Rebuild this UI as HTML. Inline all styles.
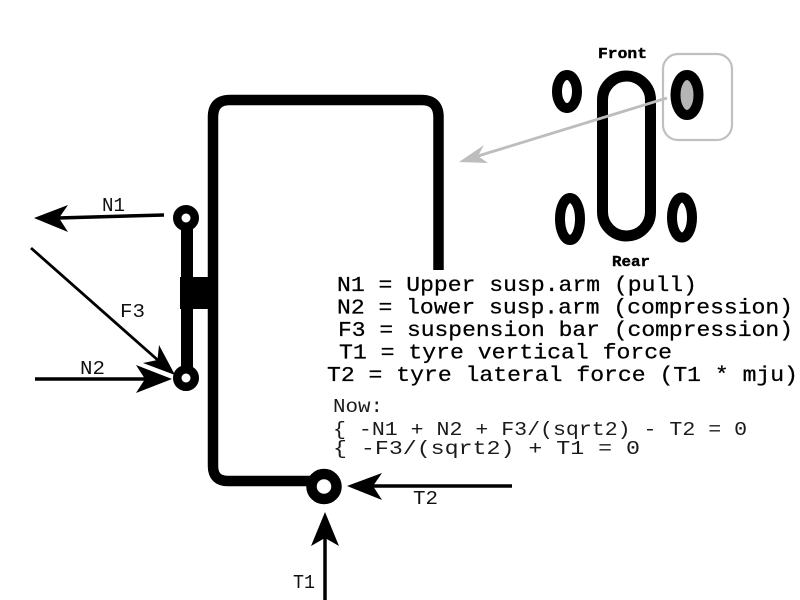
<!DOCTYPE html>
<html>
<head>
<meta charset="utf-8">
<style>
html,body{margin:0;padding:0;background:#fff;}
svg{display:block;}
text{font-family:"Liberation Mono","DejaVu Sans Mono",monospace;}
</style>
</head>
<body>
<svg width="800" height="600" viewBox="0 0 800 600" xmlns="http://www.w3.org/2000/svg">
<rect x="0" y="0" width="800" height="600" fill="#fff"/>

<!-- main frame -->
<path d="M438.5,270 L438.5,117 Q438.5,100 421.5,100 L230,100 Q213,100 213,117 L213,466 Q213,481 228,481 L320,481" fill="none" stroke="#000" stroke-width="10.5" stroke-linejoin="round"/>

<!-- strut -->
<rect x="181" y="218" width="12" height="160" fill="#000"/>
<rect x="180" y="277" width="30" height="32" fill="#000"/>
<circle cx="186" cy="218" r="8.75" fill="#fff" stroke="#000" stroke-width="8.5"/>
<circle cx="186" cy="378" r="8.75" fill="#fff" stroke="#000" stroke-width="8.5"/>

<!-- tyre contact circle -->
<circle cx="324" cy="486.5" r="12.5" fill="#fff" stroke="#000" stroke-width="10.5"/>

<!-- N1 arrow -->
<line x1="164" y1="215" x2="58" y2="218" stroke="#000" stroke-width="3.5"/>
<path d="M34,218 L68,205 L59,218 L68,232 Z" fill="#000"/>
<!-- F3 arrow -->
<line x1="31" y1="248" x2="160" y2="362" stroke="#000" stroke-width="2.8"/>
<path d="M175,375 L159,345 L157.5,360 L143,363 Z" fill="#000"/>
<!-- N2 arrow -->
<line x1="35" y1="379" x2="148" y2="379" stroke="#000" stroke-width="3.5"/>
<path d="M172,379 L136,365 L145,379 L136,393 Z" fill="#000"/>
<!-- T2 arrow -->
<line x1="372" y1="486" x2="512" y2="486" stroke="#000" stroke-width="3.5"/>
<path d="M347,486 L382,473 L373,486 L382,500 Z" fill="#000"/>
<!-- T1 arrow -->
<line x1="325" y1="536" x2="325" y2="600" stroke="#000" stroke-width="3.5"/>
<path d="M325,512 L311,546 L325,538 L339,546 Z" fill="#000"/>

<!-- force labels -->
<text x="102" y="211" font-size="19" textLength="23" lengthAdjust="spacingAndGlyphs" fill="#111">N1</text>
<text x="120" y="317" font-size="19" textLength="25" lengthAdjust="spacingAndGlyphs" fill="#111">F3</text>
<text x="80" y="374" font-size="19" textLength="25" lengthAdjust="spacingAndGlyphs" fill="#111">N2</text>
<text x="413" y="504" font-size="19" textLength="25" lengthAdjust="spacingAndGlyphs" fill="#111">T2</text>
<text x="293" y="588" font-size="19" textLength="22" lengthAdjust="spacingAndGlyphs" fill="#111">T1</text>

<!-- car top view -->
<text x="598" y="58" font-size="15" font-weight="bold" stroke="#000" stroke-width="0.4" textLength="49" lengthAdjust="spacingAndGlyphs" fill="#000">Front</text>
<text x="612" y="266" font-size="15" font-weight="bold" stroke="#000" stroke-width="0.4" textLength="38" lengthAdjust="spacingAndGlyphs" fill="#000">Rear</text>
<rect x="602.5" y="76" width="48" height="160" rx="24" ry="24" fill="none" stroke="#000" stroke-width="11"/>
<ellipse cx="567" cy="91.5" rx="10" ry="16.5" fill="#fff" stroke="#000" stroke-width="10"/>
<ellipse cx="687" cy="95" rx="11.5" ry="20" fill="#b5b5b5" stroke="#000" stroke-width="10"/>
<ellipse cx="570" cy="219" rx="10" ry="21" fill="#fff" stroke="#000" stroke-width="10"/>
<ellipse cx="682" cy="217.5" rx="10" ry="20" fill="#fff" stroke="#000" stroke-width="10"/>
<rect x="663" y="54" width="69" height="86" rx="15" ry="15" fill="none" stroke="#c0c0c0" stroke-width="2.2"/>
<line x1="667" y1="98" x2="478" y2="156" stroke="#bdbdbd" stroke-width="2.8"/>
<path d="M459,162 L484,145 L478,156 L488,163 Z" fill="#bdbdbd"/>

<!-- legend text -->
<g fill="#000" stroke="#000" stroke-width="0.25" font-size="21">
<text x="337" y="291" textLength="360" lengthAdjust="spacingAndGlyphs">N1 = Upper susp.arm (pull)</text>
<text x="337" y="313.5" textLength="456" lengthAdjust="spacingAndGlyphs">N2 = lower susp.arm (compression)</text>
<text x="338" y="336" textLength="455" lengthAdjust="spacingAndGlyphs">F3 = suspension bar (compression)</text>
<text x="339" y="358.5" textLength="333" lengthAdjust="spacingAndGlyphs">T1 = tyre vertical force</text>
<text x="327" y="381" textLength="471" lengthAdjust="spacingAndGlyphs">T2 = tyre lateral force (T1 * mju)</text>
</g>
<g fill="#1a1a1a" font-size="19">
<text x="333" y="412" textLength="50" lengthAdjust="spacingAndGlyphs">Now:</text>
<text x="333" y="435" textLength="414" lengthAdjust="spacingAndGlyphs">{ -N1 + N2 + F3/(sqrt2) - T2 = 0</text>
<text x="333" y="454" textLength="307" lengthAdjust="spacingAndGlyphs">{ -F3/(sqrt2) + T1 = 0</text>
</g>
</svg>
</body>
</html>
